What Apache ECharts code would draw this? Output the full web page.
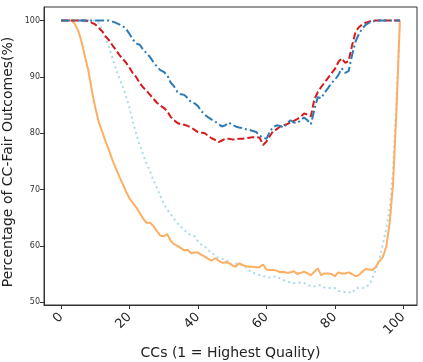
<!DOCTYPE html>
<html>
<head>
<meta charset="utf-8">
<script src="https://cdn.jsdelivr.net/npm/echarts@6/dist/echarts.min.js"></script>
<style>
html,body{margin:0;padding:0;background:#fff;}
#chart{width:423px;height:362px;}
</style>
</head>
<body>
<div id="chart"></div>
<script>
// x positions: CC rank 0..99
const ccs = Array.from({length: 100}, (_, i) => i);

const xTicks = [0, 20, 40, 60, 80, 100];
const yTicks = [50, 60, 70, 80, 90, 100];

// blue dash-dot
const seriesBlue = [
  100,100,100,100,100,100,100,100,100,100,
  100,100,100,100,100,99.8,99.6,99.3,99.0,98.5,
  97.6,96.6,95.9,95.7,94.8,94.2,93.5,92.6,91.8,91.2,
  90.9,90.3,89.0,88.3,87.3,86.9,86.8,86.2,85.5,85.3,
  84.8,83.9,83.3,82.8,82.4,82.1,81.6,81.2,81.4,81.9,
  81.5,81.2,81.0,80.9,80.7,80.6,80.4,80.2,79.6,79.2,
  79.0,80.3,81.1,81.4,81.3,81.0,81.7,82.3,81.9,81.8,
  82.3,82.8,82.3,81.6,84.2,86.4,86.2,87.2,88.0,88.9,
  89.5,90.3,91.5,90.7,91.0,93.8,96.2,97.6,98.6,99.2,
  99.6,99.8,100,100,100,100,100,100,100,100
];

// red dashed
const seriesRed = [
  100,100,100,100,100,100,100,100,99.9,99.6,
  99.3,98.7,98.1,97.2,96.5,95.6,94.8,93.9,93.2,92.5,
  91.6,90.6,89.9,88.9,88.1,87.5,86.8,86.1,85.4,84.9,
  84.5,83.9,82.9,82.3,81.8,81.6,81.5,81.3,81.0,80.6,
  80.2,80.1,80.0,79.5,79.1,78.8,78.4,78.7,79.0,79.0,
  78.9,78.9,79.0,79.0,79.1,79.2,79.3,79.3,79.2,77.9,
  78.5,79.5,80.4,80.7,81.2,81.4,81.6,81.9,82.2,82.5,
  82.9,83.5,83.3,83.0,86.0,87.3,88.2,89.0,89.8,90.6,
  91.4,92.6,93.3,92.5,92.8,95.5,97.9,98.8,99.3,99.6,
  99.8,100,100,100,100,100,100,100,100,100
];

// orange solid
const seriesOrange = [
  100,100,100,100,99.4,98.2,96.2,93.5,91.0,87.5,
  84.5,82.0,80.3,78.5,77.0,75.2,73.8,72.3,71.0,69.6,
  68.4,67.6,66.8,65.8,64.8,64.1,64.1,63.5,62.6,61.8,
  61.7,62.1,60.9,60.3,60.0,59.6,59.2,59.3,58.7,58.8,
  58.8,58.4,58.1,57.7,57.4,57.8,57.4,57.0,57.1,57.0,
  56.5,56.3,56.9,56.6,56.4,56.3,56.3,56.2,56.2,56.7,
  55.8,55.7,55.7,55.6,55.3,55.4,55.2,55.3,55.5,55.0,
  55.2,55.4,55.1,54.8,55.4,56.0,54.8,55.1,55.1,55.0,
  54.6,55.3,55.1,55.1,55.3,55.0,54.6,54.8,55.4,55.9,
  55.8,55.7,56.3,57.3,58.0,59.8,64.0,71.0,84.0,100
];

// light blue dotted
const seriesLightBlue = [
  100,100,100,100,100,100,100,100,100,100,
  100,99.6,98.3,96.8,95.2,93.3,91.5,89.8,88.2,86.5,
  84.5,82.0,79.8,77.8,76.2,74.6,73.2,71.6,70.3,68.8,
  67.5,66.5,65.6,64.8,64.0,63.4,62.8,62.2,61.9,61.7,
  60.8,60.2,59.9,59.2,58.8,58.3,57.8,57.7,57.6,57.1,
  56.6,56.8,56.9,56.5,56.2,55.6,55.2,55.1,54.8,54.7,
  54.4,54.4,54.5,54.6,54.2,53.9,53.7,53.5,53.4,53.4,
  53.5,53.4,53.0,52.9,52.8,53.0,53.0,52.6,52.5,52.5,
  52.5,52.0,51.9,51.8,51.8,51.6,52.4,52.6,52.5,52.7,
  53.1,54.2,56.0,57.6,60.2,63.0,66.5,73.5,86.0,100
];

const pairs = arr => ccs.map((x, i) => [x, arr[i]]);

const FONT = 'DejaVu Sans';
const AXIS_COLOR = '#333';

const chart = echarts.init(document.getElementById('chart'), null, {renderer: 'canvas'});
chart.setOption({
  animation: false,
  backgroundColor: '#fff',
  grid: {left: 44, right: 6, top: 7, bottom: 57, containLabel: false, outerBoundsMode: 'none',
         show: true, borderColor: AXIS_COLOR, borderWidth: 1, backgroundColor: 'transparent'},
  xAxis: {
    type: 'value', min: -5, max: 104,
    name: 'CCs (1 = Highest Quality)', nameLocation: 'middle', nameGap: 41, nameMoveOverlap: false,
    nameTextStyle: {fontFamily: FONT, fontSize: 14, color: '#222'},
    axisLine: {show: true, onZero: false, lineStyle: {color: AXIS_COLOR}},
    axisTick: {show: true, length: 4, inside: false, customValues: xTicks, lineStyle: {color: AXIS_COLOR}},
    axisLabel: {customValues: xTicks, rotate: 45, margin: 10, fontFamily: FONT, fontSize: 13, color: '#222'},
    splitLine: {show: false}
  },
  yAxis: {
    type: 'value', min: 49.5, max: 102.4,
    name: 'Percentage of CC-Fair Outcomes(%)', nameLocation: 'middle', nameGap: 29, nameMoveOverlap: false,
    nameTextStyle: {fontFamily: FONT, fontSize: 14, color: '#222', padding: [0, 12, 0, 0]},
    axisLine: {show: true, onZero: false, lineStyle: {color: AXIS_COLOR}},
    axisTick: {show: true, length: 4, inside: false, customValues: yTicks, lineStyle: {color: AXIS_COLOR}},
    axisLabel: {customValues: yTicks, margin: 4, fontFamily: FONT, fontSize: 8, color: '#333'},
    splitLine: {show: false}
  },
  series: [
    {type: 'line', data: pairs(seriesLightBlue), showSymbol: false, z: 2,
     lineStyle: {color: '#abd9e9', width: 2, type: [2, 3.3], cap: 'butt'}},
    {type: 'line', data: pairs(seriesOrange), showSymbol: false, z: 3,
     lineStyle: {color: '#fdae61', width: 2, type: 'solid'}},
    {type: 'line', data: pairs(seriesRed), showSymbol: false, z: 4,
     lineStyle: {color: '#d7191c', width: 2, type: [7, 3]}},
    {type: 'line', data: pairs(seriesBlue), showSymbol: false, z: 5,
     lineStyle: {color: '#2c7bb6', width: 2, type: [9, 3, 2, 3]}}
  ]
});
</script>
</body>
</html>
